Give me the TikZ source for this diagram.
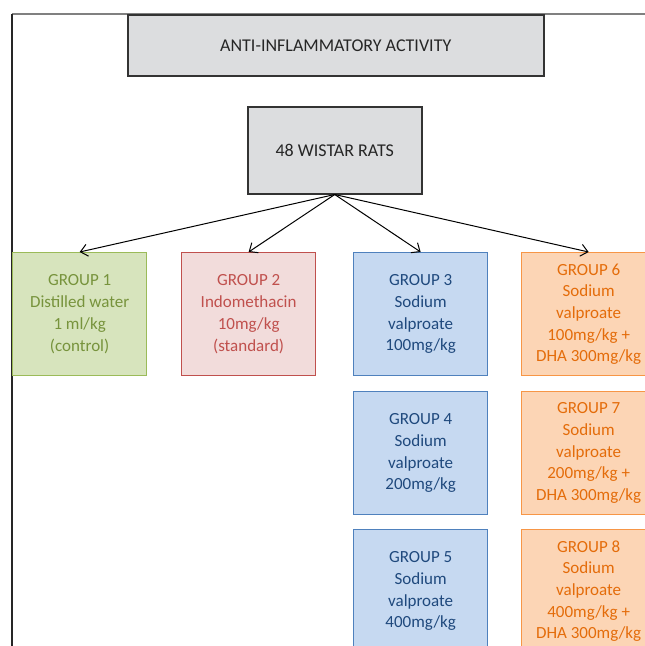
\documentclass[tikz,border=0pt]{standalone}
\usepackage{fontspec}
\setmainfont{Carlito}
\usetikzlibrary{arrows.meta}
\definecolor{boxgray}{HTML}{DCDDDF}
\definecolor{gfill}{HTML}{D7E4BD}
\definecolor{gline}{HTML}{9BBB59}
\definecolor{gtext}{HTML}{77933C}
\definecolor{rfill}{HTML}{F2DCDB}
\definecolor{rline}{HTML}{C0504D}
\definecolor{rtext}{HTML}{C0504D}
\definecolor{bfill}{HTML}{C6D9F1}
\definecolor{bline}{HTML}{4F81BD}
\definecolor{btext}{HTML}{1F497D}
\definecolor{ofill}{HTML}{FCD5B5}
\definecolor{oline}{HTML}{F79646}
\definecolor{otext}{HTML}{E46C0A}
\begin{document}
\begin{tikzpicture}[x=1pt,y=-1pt,
  grp/.style={draw, line width=1.3pt, minimum width=134pt, minimum height=123pt,
    inner sep=0pt, align=center, font=\fontsize{17}{21.7}\selectfont, anchor=north west},
  gbox/.style={grp, fill=gfill, draw=gline, text=gtext},
  rbox/.style={grp, fill=rfill, draw=rline, text=rtext},
  bbox/.style={grp, fill=bfill, draw=bline, text=btext},
  obox/.style={grp, fill=ofill, draw=oline, text=otext},
  hdr/.style={draw=black!80, line width=1.5pt, fill=boxgray, inner sep=0pt, anchor=north west,
    font=\fontsize{18}{21}\selectfont, text=black!85},
  arr/.style={-{Straight Barb[length=7pt,width=12pt]}, line width=1pt, black}]
\useasboundingbox (0,0) rectangle (645,646);
\clip (0,0) rectangle (645,646);
\coordinate (fl) at (12,646);
\coordinate (fc) at (12,14);
\coordinate (fr) at (645,14);
\draw[line width=1.5pt, gray] (fc) -- (fr);
\draw[line width=1.2pt, black!85] (fc) -- (fl);
\node[hdr, minimum width=416pt, minimum height=61pt] (title) at (127,14) {ANTI-INFLAMMATORY ACTIVITY};
\node[hdr, minimum width=174pt, minimum height=87pt] (rats) at (247,106) {48 WISTAR RATS};
\node[gbox] (g1) at (12,252) {GROUP 1\\Distilled water\\1 ml/kg\\(control)};
\node[rbox] (g2) at (181,252) {GROUP 2\\Indomethacin\\10mg/kg\\(standard)};
\node[bbox] (g3) at (353,252) {GROUP 3\\Sodium\\valproate\\100mg/kg};
\node[bbox] (g4) at (353,391) {GROUP 4\\Sodium\\valproate\\200mg/kg};
\node[bbox] (g5) at (353,529) {GROUP 5\\Sodium\\valproate\\400mg/kg};
\node[obox] (g6) at (521,252) {GROUP 6\\Sodium\\valproate\\100mg/kg +\\DHA 300mg/kg};
\node[obox] (g7) at (521,391) {GROUP 7\\Sodium\\valproate\\200mg/kg +\\DHA 300mg/kg};
\node[obox] (g8) at (521,529) {GROUP 8\\Sodium\\valproate\\400mg/kg +\\DHA 300mg/kg};
\draw[arr] (rats.south) -- (g1.north);
\draw[arr] (rats.south) -- (g2.north);
\draw[arr] (rats.south) -- (g3.north);
\draw[arr] (rats.south) -- (g6.north);
\end{tikzpicture}
\end{document}
